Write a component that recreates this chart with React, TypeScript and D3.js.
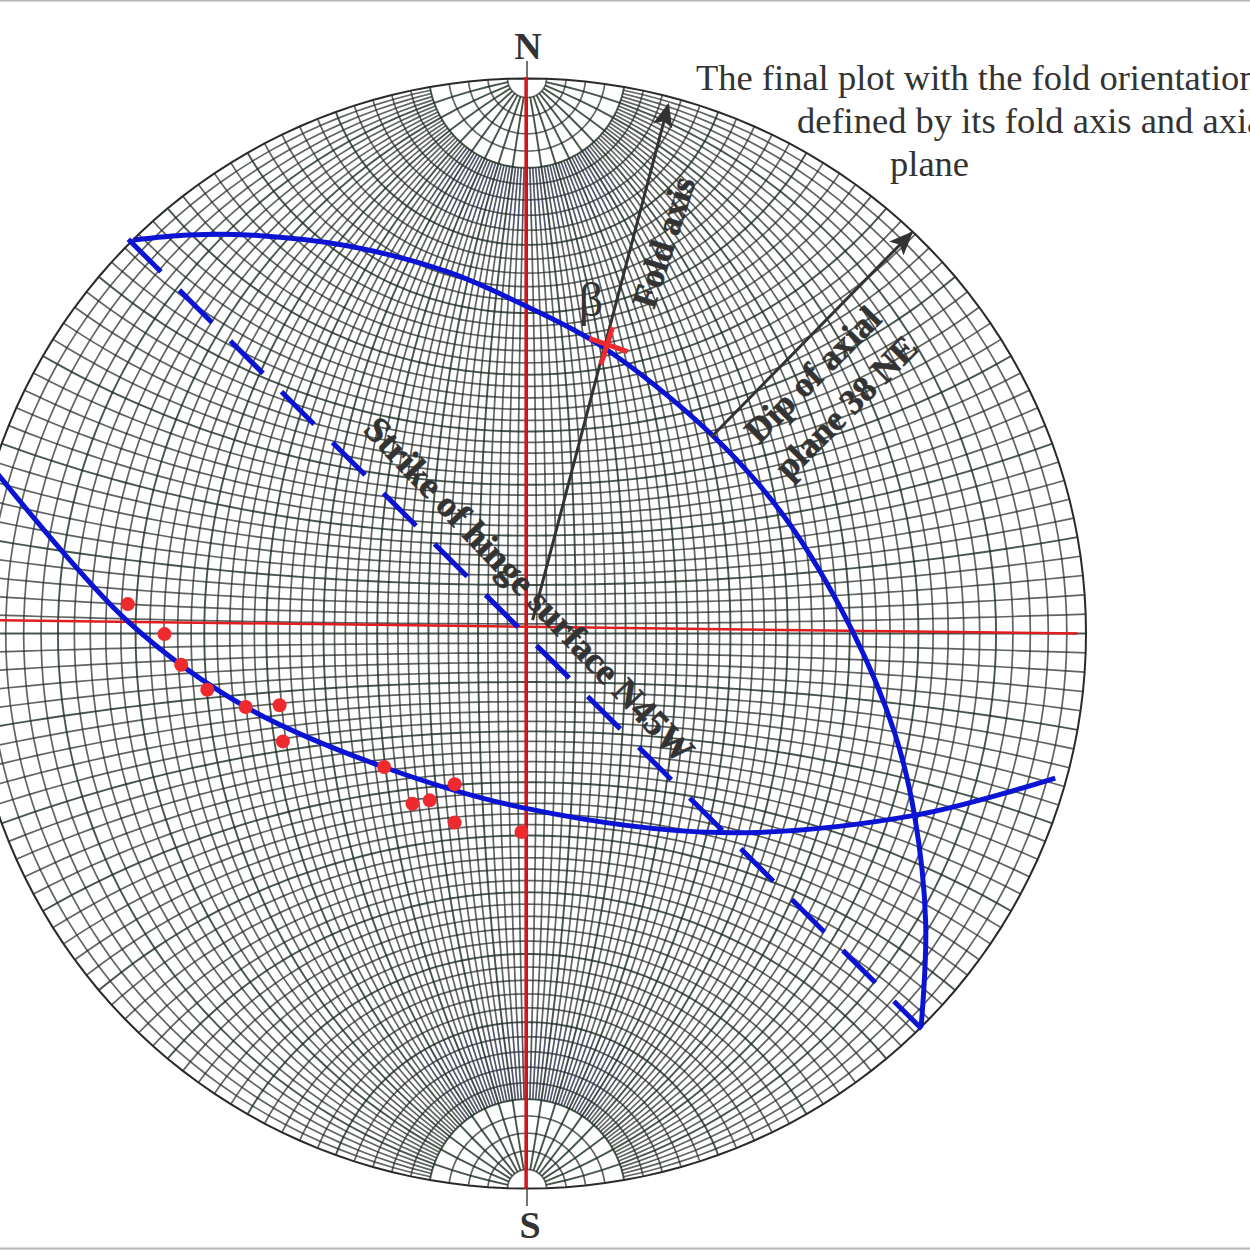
import * as d3 from "d3";

const size = 1250;
const centerX = 527;
const centerY = 633;
const radius = 556;

// the printed net is a little wider than tall
const netRadius = 555;
const netStretch = 559 / 555;
const netCenterY = 633.5;

// net coordinates: -100..100 across the primitive circle, east / north
const poleEast = [-71.8, -65.2, -62.2, -57.5, -50.6, -44.5, -43.9, -25.7, -13.0, -17.5, -20.6, -13.0, -1.0];
const poleNorth = [5.2, -0.2, -5.7, -10.2, -13.3, -13.0, -19.5, -24.1, -27.2, -30.1, -30.7, -34.1, -35.8];

const limbEast = [-95.1, -71.7, -50.6, -25.8, -0.4, 34.6, 69.7, 95.0];
const limbNorth = [28.5, 2.0, -13.3, -24.1, -31.5, -35.9, -32.8, -26.1];

const axialEast = [-70.8, -60.9, -50.1, -32.1, -14.1, -0.4, 13.7, 33.2, 46.3, 58.6, 66.1, 69.7, 71.7, 70.9];
const axialNorth = [70.7, 71.6, 71.6, 69.6, 64.9, 58.9, 51.4, 35.7, 20.9, 0.2, -17.9, -32.8, -52.0, -70.7];

const strikeEast = [-71.7, 71.0];
const strikeNorth = [70.8, -71.2];

const northSouthEast = [-0.2, -0.2];
const northSouthNorth = [100, -100];
const eastWestEast = [-95, 99];
const eastWestNorth = [2.3, -0.1];

const foldAxisEast = [1.0, 25.4];
const foldAxisNorth = [2.3, 95.0];
const dipArrowEast = [33.2, 69.2];
const dipArrowNorth = [35.3, 72.0];

const betaEastA = [11.2, 18.1];
const betaNorthA = [53.0, 50.6];
const betaEastB = [15.4, 13.3];
const betaNorthB = [55.0, 48.3];

const titleLines = ["The final plot with the fold orientation", "defined by its fold axis and axial", "plane"];

const minorStep = 2;
const majorStep = 10;

const x = d3.scaleLinear().domain([-100, 100]).range([centerX - radius, centerX + radius]);
const y = d3.scaleLinear().domain([-100, 100]).range([centerY + radius, centerY - radius]);

const projection = d3
  .geoStereographic()
  .scale(netRadius)
  .translate([centerX, netCenterY])
  .clipAngle(90)
  .precision(0.2);
const geo = d3.geoPath(projection);

const latSteps = d3.range(-88, 88.1, minorStep);
const lonSteps = d3.range(-88, 88.1, minorStep);

const lineAlong = (lon: number, limit: number) => d3.range(-limit, limit + 0.1, 2).map((lat) => [lon, lat]);
const lineAcross = (lat: number) => d3.range(-90, 90.1, 2).map((lon) => [lon, lat]);
const band = (lon: number, from: number, to: number) => d3.range(from, to + 0.1, 2).map((lat) => [lon, lat]);

const isMajor = (v: number) => Math.abs(v % majorStep) < 1e-6;
const multi = (coordinates: number[][][]) => ({ type: "MultiLineString", coordinates } as any);

const minorMeridians = multi(lonSteps.filter((v) => !isMajor(v)).map((v) => lineAlong(v, 80)));
const minorParallels = multi(latSteps.filter((v) => !isMajor(v)).map(lineAcross));
const majorMeridians = multi(lonSteps.filter(isMajor).map((v) => lineAlong(v, 88)));
const majorParallels = multi(latSteps.filter(isMajor).map(lineAcross));

// bluish print patches just under both polar caps
const patchLons = d3.range(-44, 44.1, minorStep);
const polarPatches = multi([
  ...patchLons.map((v) => band(v, 72, 80)),
  ...patchLons.map((v) => band(v, -80, -70)),
]);

const curve = d3
  .line<number>()
  .x((d) => d)
  .curve(d3.curveCatmullRom.alpha(0.5));

const trace = (east: number[], north: number[]) =>
  curve.x((_, i) => x(east[i])).y((_, i) => y(north[i]))(east) || "";

const straight = (east: number[], north: number[]) =>
  d3
    .line<number>()
    .x((_, i) => x(east[i]))
    .y((_, i) => y(north[i]))(east) || "";

const ink = "#333333";
const blue = "#0a14d2";
const red = "#ee2a2e";
const serif = "'Liberation Serif', serif";

export default function App() {
  const netTransform = `translate(${centerX},0) scale(${netStretch},1) translate(${-centerX},0)`;
  return (
    <svg
      width={size}
      height={size}
      viewBox={`0 0 ${size} ${size}`}
      style={{ position: "fixed", left: 0, top: 0, background: "#fff" }}
    >
      <defs>
        <marker id="head" viewBox="0 0 24 24" refX="22" refY="12" markerWidth="24" markerHeight="24" markerUnits="userSpaceOnUse" orient="auto">
          <path d="M0,2 L24,12 L0,22 L5,12 Z" fill={ink} />
        </marker>
        <filter id="soft" x="-5%" y="-5%" width="110%" height="110%">
          <feGaussianBlur stdDeviation="0.45" />
        </filter>
      </defs>
      <line x1={0} x2={size} y1={0.5} y2={0.5} stroke="#b5b5b5" strokeWidth={2} />
      <line x1={0} x2={size} y1={1248.5} y2={1248.5} stroke="#b5b5b5" strokeWidth={2} />

      <g transform={netTransform} filter="url(#soft)" fill="none">
        <path d={geo(minorMeridians) || ""} stroke="#262927" strokeWidth={1.7} strokeOpacity={0.72} />
        <path d={geo(minorParallels) || ""} stroke="#262927" strokeWidth={1.7} strokeOpacity={0.72} />
        <path d={geo(polarPatches) || ""} stroke="#2d3590" strokeWidth={1.2} strokeOpacity={0.3} />
        <path d={geo(majorMeridians) || ""} stroke="#1c2d22" strokeWidth={1.9} strokeOpacity={0.8} />
        <path d={geo(majorParallels) || ""} stroke="#1c2d22" strokeWidth={1.9} strokeOpacity={0.8} />
        <path d={geo({ type: "Sphere" } as any) || ""} stroke="#2a2a2a" strokeWidth={2} />
      </g>

      <line x1={x(0)} x2={x(0)} y1={y(100) - 16} y2={y(-100) + 17} stroke="#444" strokeWidth={1.5} />
      <path d={straight(northSouthEast, northSouthNorth)} fill="none" stroke="#d0171c" strokeWidth={3} />
      <path d={straight(eastWestEast, eastWestNorth)} fill="none" stroke="#e01e22" strokeWidth={2.5} />

      <path d={trace(limbEast, limbNorth)} fill="none" stroke={blue} strokeWidth={5} />
      <path d={trace(axialEast, axialNorth)} fill="none" stroke={blue} strokeWidth={5} />
      <path d={straight(strikeEast, strikeNorth)} fill="none" stroke={blue} strokeWidth={5} strokeDasharray="46 26" />

      <path d={straight(foldAxisEast, foldAxisNorth)} fill="none" stroke={ink} strokeWidth={3} markerEnd="url(#head)" />
      <path d={straight(dipArrowEast, dipArrowNorth)} fill="none" stroke={ink} strokeWidth={3} markerEnd="url(#head)" />

      <path d={straight(betaEastA, betaNorthA)} fill="none" stroke={red} strokeWidth={5} />
      <path d={straight(betaEastB, betaNorthB)} fill="none" stroke={red} strokeWidth={5} />

      {poleEast.map((e, i) => (
        <circle key={i} cx={x(e)} cy={y(poleNorth[i])} r={7} fill={red} />
      ))}

      <g fontFamily={serif} fill={ink}>
        <text x={528} y={59} textAnchor="middle" fontSize={38} fontWeight="bold">N</text>
        <text x={530} y={1238} textAnchor="middle" fontSize={38} fontWeight="bold">S</text>
        <text x={696} y={90} fontSize={36.5}>{titleLines[0]}</text>
        <text x={797} y={133} fontSize={36.5}>{titleLines[1]}</text>
        <text x={890} y={176} fontSize={36.5}>{titleLines[2]}</text>
        <text x={591} y={316} textAnchor="middle" fontSize={48}>β</text>
        <g fontWeight="bold" stroke={ink} strokeWidth={0.6}>
          <text transform="translate(654,310) rotate(-72)" fontSize={35}>Fold axis</text>
          <text transform="translate(759,445) rotate(-45)" fontSize={35.5}>Dip of axial</text>
          <text transform="translate(789,481) rotate(-45)" fontSize={35.5}>plane 38 NE</text>
          <text transform="translate(362,431) rotate(46.5)" fontSize={36.5}>Strike of hinge surface N45W</text>
        </g>
      </g>
    </svg>
  );
}
